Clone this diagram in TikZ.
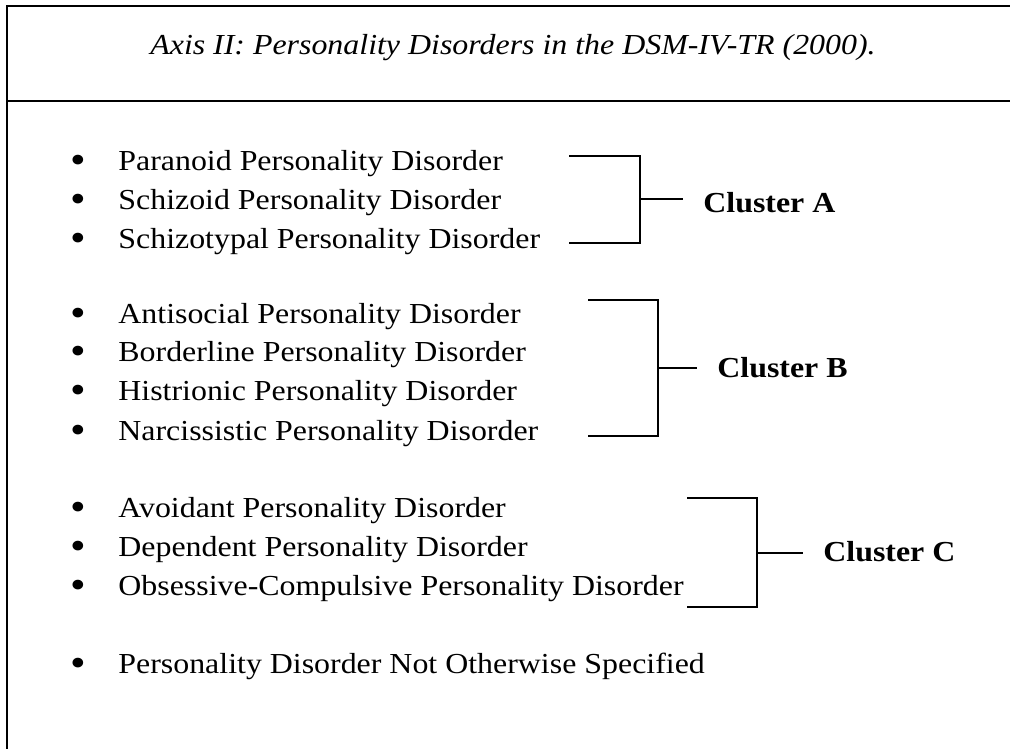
\documentclass[tikz,border=0pt]{standalone}
\usepackage{graphicx}
\usepackage{fontspec}
\setmainfont{Liberation Serif}[FakeStretch=1.1]
\usetikzlibrary{positioning}
\tikzset{
  itm/.style={anchor=base west, inner sep=0pt},
  clus/.style={anchor=base west, inner sep=0pt, font=\fontsize{14.5}{17}\selectfont\bfseries},
  brk/.style={line width=0.9pt},
  frm/.style={line width=1.1pt}
}
\newcommand{\bul}{\makebox[24pt][l]{\raisebox{-1.6pt}{\scalebox{1.4}{\textbullet}}}}

\begin{document}
\begin{tikzpicture}[x=0.5pt, y=-0.5pt, font=\fontsize{14.5}{17}\selectfont]
    \useasboundingbox (0,0) rectangle (1010,749);

    % frame and title
    \draw[frm] (1010,6) -- (7,6) -- (7,749);
    \draw[frm] (7,101) -- (1010,101);
    \node[anchor=base, inner sep=0pt, font=\fontsize{14.5}{17}\selectfont\itshape] (title) at (513,55)
        {Axis II: Personality Disorders in the DSM-IV-TR (2000).};

    % list of disorders
    \foreach \n/\y/\t in {par/170/Paranoid, szd/209/Schizoid, szt/248/Schizotypal,
                          ant/323/Antisocial, bor/361/Borderline, his/400/Histrionic, nar/440/Narcissistic,
                          avo/517/Avoidant, dep/556/Dependent, ocd/595/Obsessive-Compulsive}
        \node[itm] (\n) at (70,\y) {\bul\t{} Personality Disorder};
    \node[itm] (nos) at (70,673) {\bul Personality Disorder Not Otherwise Specified};

    % cluster labels
    \node[clus] (clA) at (703,212) {Cluster A};
    \node[clus] (clB) at (717,377) {Cluster B};
    \node[clus] (clC) at (823,561) {Cluster C};

    % brackets
    \coordinate (a1) at (569,156);
    \coordinate (a2) at (569,243);
    \coordinate (aS) at (640,199);
    \draw[brk] (a1) -- ++(71,0) |- (a2);
    \draw[brk] (aS) -- ([xshift=-10pt]clA.west |- aS);

    \coordinate (b1) at (588,300);
    \coordinate (b2) at (588,436);
    \coordinate (bS) at (658,368);
    \draw[brk] (b1) -- ++(70,0) |- (b2);
    \draw[brk] (bS) -- ([xshift=-10pt]clB.west |- bS);

    \coordinate (c1) at (687,498);
    \coordinate (c2) at (687,607);
    \coordinate (cS) at (757,553);
    \draw[brk] (c1) -- ++(70,0) |- (c2);
    \draw[brk] (cS) -- ([xshift=-10pt]clC.west |- cS);
\end{tikzpicture}
\end{document}
